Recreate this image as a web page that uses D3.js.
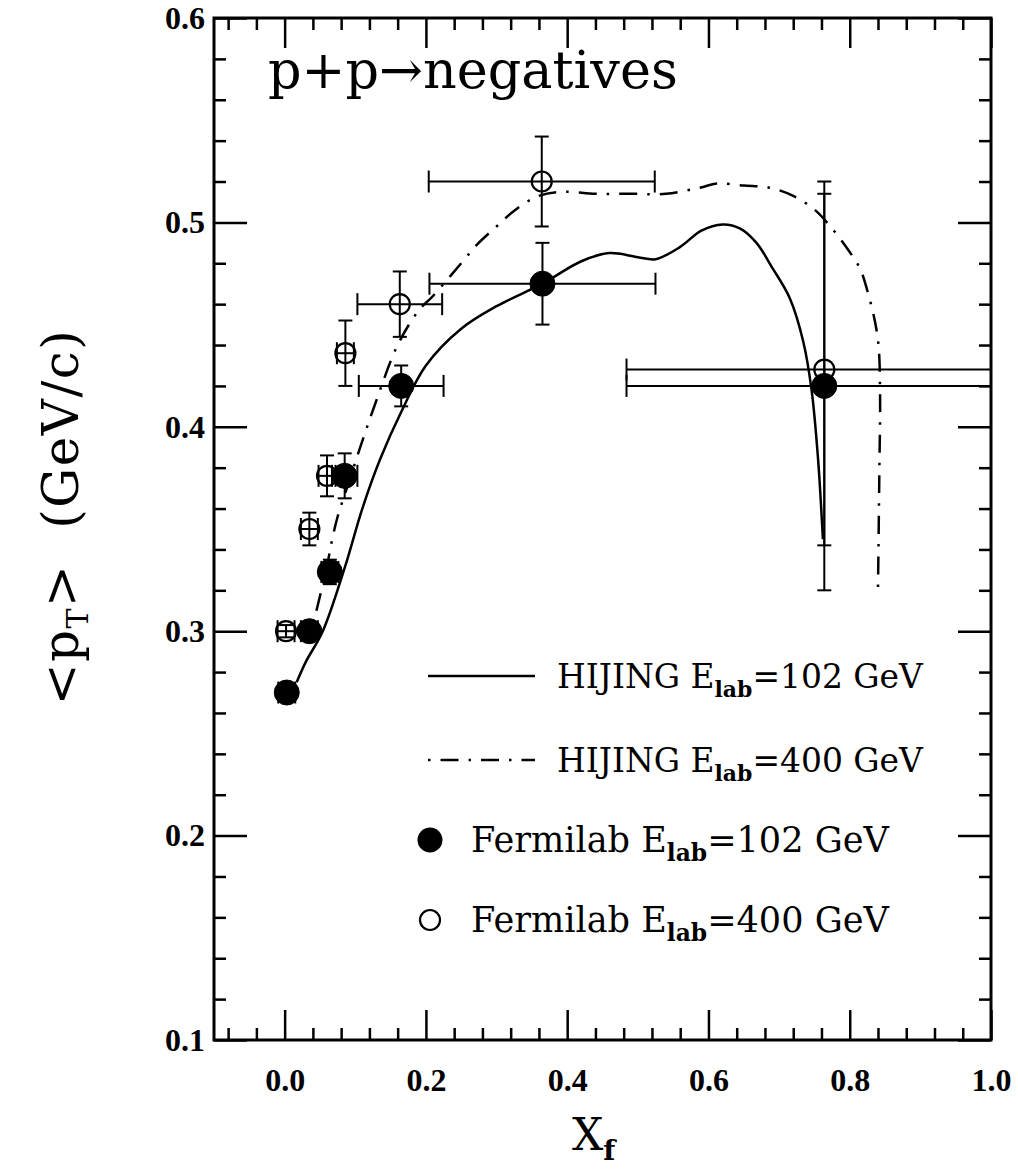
<!DOCTYPE html>
<html>
<head>
<meta charset="utf-8">
<script src="https://cdn.jsdelivr.net/npm/d3@7"></script>
<style>
  body { margin: 0; background: #fff; }
  text { fill: #000; }
</style>
</head>
<body>
<div id="chart"></div>
<script>
// Fermilab E_lab=102 GeV (filled)
const fnal102X    = [0.003, 0.035, 0.064, 0.085, 0.165, 0.365, 0.764];
const fnal102Y    = [0.270, 0.300, 0.329, 0.376, 0.420, 0.470, 0.420];
const fnal102XErr = [0.012, 0.012, 0.012, 0.018, 0.060, 0.160, 0.280];
const fnal102YErr = [0.003, 0.004, 0.006, 0.011, 0.010, 0.020, 0.100];

// Fermilab E_lab=400 GeV (open)
const fnal400X    = [0.002, 0.035, 0.060, 0.086, 0.163, 0.364, 0.764];
const fnal400Y    = [0.300, 0.350, 0.376, 0.436, 0.460, 0.520, 0.428];
const fnal400XErr = [0.012, 0.012, 0.012, 0.012, 0.060, 0.160, 0.280];
const fnal400YErr = [0.003, 0.008, 0.010, 0.016, 0.016, 0.022, 0.086];

// HIJING curves [x_f, <pT>]
const hijing102 = [[0.017, 0.275], [0.030, 0.285], [0.054, 0.300], [0.085, 0.331], [0.110, 0.360],
  [0.135, 0.384], [0.166, 0.408], [0.200, 0.430], [0.250, 0.448], [0.300, 0.459], [0.365, 0.470],
  [0.420, 0.481], [0.460, 0.485], [0.500, 0.483], [0.525, 0.482], [0.560, 0.488], [0.590, 0.496],
  [0.620, 0.499], [0.645, 0.497], [0.668, 0.490], [0.690, 0.478], [0.715, 0.463], [0.734, 0.442],
  [0.746, 0.418], [0.755, 0.385], [0.762, 0.345]];
const hijing400 = [[0.045, 0.310], [0.060, 0.332], [0.068, 0.346], [0.075, 0.356], [0.090, 0.372],
  [0.108, 0.391], [0.130, 0.413], [0.160, 0.440], [0.190, 0.457], [0.210, 0.464], [0.250, 0.480],
  [0.272, 0.489], [0.300, 0.498], [0.326, 0.506], [0.360, 0.513], [0.394, 0.515], [0.440, 0.514],
  [0.490, 0.514], [0.540, 0.514], [0.588, 0.517], [0.612, 0.519], [0.650, 0.518], [0.686, 0.517],
  [0.720, 0.513], [0.751, 0.506], [0.775, 0.497], [0.797, 0.487], [0.815, 0.477], [0.827, 0.464],
  [0.836, 0.451], [0.841, 0.439], [0.843, 0.414], [0.842, 0.380], [0.840, 0.320]];

const xMajor = [0.0, 0.2, 0.4, 0.6, 0.8, 1.0];
const yMajor = [0.1, 0.2, 0.3, 0.4, 0.5, 0.6];

const svg = d3.select("#chart").append("svg")
    .attr("width", 1018)
    .attr("height", 1173);

const frame = { left: 214, right: 991, top: 18, bottom: 1040 };

const x = d3.scaleLinear().domain([-0.1, 1.0]).range([frame.left, frame.right]);
const y = d3.scaleLinear().domain([0.1, 0.6]).range([frame.bottom, frame.top]);

const near = (v, list) => list.some(m => Math.abs(m - v) < 1e-6);
const xMinor = d3.range(-0.08, 1.0, 0.04).map(v => +v.toFixed(2)).filter(v => !near(v, xMajor));
const yMinor = d3.range(0.12, 0.6, 0.02).map(v => +v.toFixed(2)).filter(v => !near(v, yMajor));

const tickFont = "'Liberation Serif', serif";
const textFont = "'DejaVu Serif', serif";

function styleAxis(g) {
    g.select(".domain").remove();
    g.selectAll(".tick line").attr("stroke", "#000").attr("stroke-width", 2.5);
    g.selectAll(".tick text")
        .attr("font-family", tickFont)
        .attr("font-weight", "bold")
        .attr("font-size", 32);
}

// major + minor ticks on all four sides, pointing inward
svg.append("g").attr("transform", `translate(0,${frame.bottom})`)
    .call(d3.axisBottom(x).tickValues(xMajor).tickSize(-30).tickPadding(28).tickFormat(d3.format(".1f")))
    .call(styleAxis);
svg.append("g").attr("transform", `translate(0,${frame.bottom})`)
    .call(d3.axisBottom(x).tickValues(xMinor).tickSize(-12).tickFormat(""))
    .call(styleAxis);
svg.append("g").attr("transform", `translate(0,${frame.top})`)
    .call(d3.axisTop(x).tickValues(xMajor).tickSize(-30).tickFormat(""))
    .call(styleAxis);
svg.append("g").attr("transform", `translate(0,${frame.top})`)
    .call(d3.axisTop(x).tickValues(xMinor).tickSize(-12).tickFormat(""))
    .call(styleAxis);

svg.append("g").attr("transform", `translate(${frame.left},0)`)
    .call(d3.axisLeft(y).tickValues(yMajor).tickSize(-33).tickPadding(9).tickFormat(d3.format(".1f")))
    .call(styleAxis);
svg.append("g").attr("transform", `translate(${frame.left},0)`)
    .call(d3.axisLeft(y).tickValues(yMinor).tickSize(-12).tickFormat(""))
    .call(styleAxis);
svg.append("g").attr("transform", `translate(${frame.right},0)`)
    .call(d3.axisRight(y).tickValues(yMajor).tickSize(-33).tickFormat(""))
    .call(styleAxis);
svg.append("g").attr("transform", `translate(${frame.right},0)`)
    .call(d3.axisRight(y).tickValues(yMinor).tickSize(-12).tickFormat(""))
    .call(styleAxis);

// frame
svg.append("rect")
    .attr("x", frame.left).attr("y", frame.top)
    .attr("width", frame.right - frame.left).attr("height", frame.bottom - frame.top)
    .attr("fill", "none").attr("stroke", "#000").attr("stroke-width", 3);

svg.append("clipPath").attr("id", "plotclip")
    .append("rect")
    .attr("x", frame.left).attr("y", frame.top)
    .attr("width", frame.right - frame.left).attr("height", frame.bottom - frame.top);

const plot = svg.append("g").attr("clip-path", "url(#plotclip)");

const line = d3.line()
    .x(d => x(d[0]))
    .y(d => y(d[1]))
    .curve(d3.curveCatmullRom.alpha(0.5));

plot.append("path")
    .datum(hijing102)
    .attr("d", line)
    .attr("fill", "none").attr("stroke", "#000").attr("stroke-width", 2.5);

plot.append("path")
    .datum(hijing400)
    .attr("d", line)
    .attr("fill", "none").attr("stroke", "#000").attr("stroke-width", 2.5)
    .attr("stroke-dasharray", "18,10,2.5,10");

// error bars + markers
function drawSet(xs, ys, xe, ye, filled) {
    const pts = xs.map((v, i) => ({ x: v, y: ys[i], xe: xe[i], ye: ye[i] }));
    const g = plot.append("g").attr("stroke", "#000").attr("stroke-width", 2);

    pts.forEach(d => {
        const cx = x(d.x), cy = y(d.y);
        const x0 = x(d.x - d.xe), x1 = x(d.x + d.xe);
        const y0 = y(d.y - d.ye), y1 = y(d.y + d.ye);
        g.append("line").attr("x1", x0).attr("x2", x1).attr("y1", cy).attr("y2", cy);
        g.append("line").attr("x1", x0).attr("x2", x0).attr("y1", cy - 11).attr("y2", cy + 11);
        g.append("line").attr("x1", x1).attr("x2", x1).attr("y1", cy - 11).attr("y2", cy + 11);
        g.append("line").attr("x1", cx).attr("x2", cx).attr("y1", y0).attr("y2", y1);
        g.append("line").attr("x1", cx - 7).attr("x2", cx + 7).attr("y1", y0).attr("y2", y0);
        g.append("line").attr("x1", cx - 7).attr("x2", cx + 7).attr("y1", y1).attr("y2", y1);
    });

    g.selectAll("circle")
        .data(pts)
        .join("circle")
        .attr("cx", d => x(d.x))
        .attr("cy", d => y(d.y))
        .attr("r", filled ? 12.5 : 10)
        .attr("fill", filled ? "#000" : "none")
        .attr("stroke-width", filled ? 1 : 2.2);
}

drawSet(fnal400X, fnal400Y, fnal400XErr, fnal400YErr, false);
drawSet(fnal102X, fnal102Y, fnal102XErr, fnal102YErr, true);

// scale a text element's font so it spans a given width
function fitWidth(sel, target) {
    const base = +sel.attr("font-size");
    const w = sel.node().getComputedTextLength();
    const k = target / w;
    sel.attr("font-size", base * k);
    sel.selectAll("tspan").each(function () {
        const t = d3.select(this);
        if (t.attr("font-size")) t.attr("font-size", +t.attr("font-size") * k);
        if (t.attr("dy")) t.attr("dy", +t.attr("dy") * k);
    });
}

// title inside plot
const title = svg.append("text")
    .attr("x", 268).attr("y", 88)
    .attr("font-family", textFont)
    .attr("font-size", 46)
    .text("p+p→negatives");
fitWidth(title, 410);

// legend
const legend = svg.append("g").attr("font-family", textFont);

function legendLabel(tx, ty, pre, post, width) {
    const t = legend.append("text").attr("x", tx).attr("y", ty).attr("font-size", 30);
    t.append("tspan").text(pre + "E");
    t.append("tspan").attr("dy", 8).attr("font-size", 20).attr("font-weight", "bold").text("lab");
    t.append("tspan").attr("dy", -8).text(post);
    fitWidth(t, width);
}

legend.append("line")
    .attr("x1", 428).attr("x2", 535).attr("y1", 676).attr("y2", 676)
    .attr("stroke", "#000").attr("stroke-width", 2.5);
legendLabel(557, 688, "HIJING ", "=102 GeV", 366);

legend.append("line")
    .attr("x1", 428).attr("x2", 535).attr("y1", 760).attr("y2", 760)
    .attr("stroke", "#000").attr("stroke-width", 2.5)
    .attr("stroke-dasharray", "2.5,10,18,10");
legendLabel(557, 772, "HIJING ", "=400 GeV", 366);

legend.append("circle").attr("cx", 430).attr("cy", 840).attr("r", 12.5).attr("fill", "#000");
legendLabel(471, 852, "Fermilab ", "=102 GeV", 418);

legend.append("circle").attr("cx", 430).attr("cy", 920).attr("r", 10)
    .attr("fill", "none").attr("stroke", "#000").attr("stroke-width", 2.2);
legendLabel(471, 932, "Fermilab ", "=400 GeV", 418);

// axis titles
const xTitle = svg.append("text")
    .attr("x", 572).attr("y", 1150)
    .attr("font-family", textFont)
    .attr("font-size", 44);
xTitle.append("tspan").text("X");
xTitle.append("tspan").attr("dy", 10).attr("font-size", 28).attr("font-weight", "bold").text("f");

const yTitle = svg.append("text")
    .attr("transform", "translate(78,517) rotate(-90)")
    .attr("text-anchor", "middle")
    .attr("font-family", textFont)
    .attr("font-size", 50)
    .attr("letter-spacing", 1.5);
yTitle.append("tspan").text("<p");
yTitle.append("tspan").attr("dy", 10).attr("font-size", 30).text("T");
yTitle.append("tspan").attr("dy", -10).text(">\u00a0\u00a0(GeV/c)");
</script>
</body>
</html>
